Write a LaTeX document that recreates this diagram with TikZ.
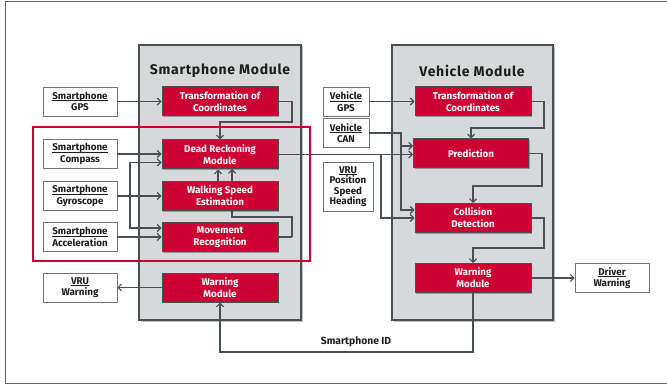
\documentclass[tikz,border=0pt]{standalone}
\usepackage{fontspec}
\setmainfont{Fira Sans}
\usetikzlibrary{arrows.meta,shadows,calc}
\definecolor{audired}{RGB}{204,0,51}
\definecolor{modfill}{RGB}{214,217,217}
\definecolor{dark}{RGB}{72,80,86}
\definecolor{txt}{RGB}{30,30,30}
\newsavebox{\ulbox}
\newcommand{\myul}[1]{\sbox{\ulbox}{#1}\rlap{\rule[-1.6pt]{\wd\ulbox}{0.7pt}}\usebox{\ulbox}}
\begin{document}
\begin{tikzpicture}[x=1pt,y=-1pt,
  module/.style={draw=dark,line width=2pt,fill=modfill,drop shadow={shadow xshift=2pt,shadow yshift=-2pt,fill=black,opacity=0.25}},
  redbox/.style={draw=dark,line width=1pt,fill=audired,text=white,font=\bfseries\fontsize{9.8}{12}\selectfont,align=center,minimum width=116pt,minimum height=29pt,inner sep=1pt,drop shadow={shadow xshift=1.2pt,shadow yshift=-1.2pt,fill=black,opacity=0.3}},
  inbox/.style={draw=black!55,line width=0.8pt,fill=white,text=txt,font=\bfseries\fontsize{9.8}{11.5}\selectfont,align=center,minimum width=74pt,minimum height=29pt,inner sep=1pt},
  conn/.style={draw=dark,line width=1.3pt},
  arr/.style={conn,-{Straight Barb[length=3.5pt,width=7pt,line width=1.1pt]}},
  title/.style={font=\bfseries\fontsize{14}{16}\selectfont\addfontfeature{LetterSpace=5},text=txt}
]
\useasboundingbox (0,0) rectangle (667,385);
% outer frame
\draw[black!60,line width=1pt] (668,2) -- (5,2) -- (5,383) -- (668,383);
% modules
\node[module,minimum width=162pt,minimum height=275pt,inner sep=0pt] (spmod) at (220,182.5) {};
\node[module,minimum width=161pt,minimum height=275pt,inner sep=0pt] (vmod) at (472.5,182.5) {};
\node[title] (sptitle) at (220,71) {Smartphone Module};
\node[title] (vtitle) at (472,71) {Vehicle Module};
% coordinates
\coordinate (j) at (130,196);
% ---- connector hidden behind the walking speed box
\draw[arr] (292,237) coordinate (mr1) -- (292,217) -- (232,217) -- (232,169);
% boxes
\node[redbox] (spT) at (220,101.5) {Transformation of\\Coordinates};
\node[redbox] (spD) at (220,154.5) {Dead Reckoning\\Module};
\node[redbox] (spW) at (220,196) {Walking Speed\\Estimation};
\node[redbox] (spM) at (220,237) {Movement\\Recognition};
\node[redbox] (spWarn) at (220,287.5) {Warning\\Module};
\node[inbox] (inGPS) at (80,101.5) {\myul{Smartphone}\\GPS};
\node[inbox] (inCompass) at (80,154) {\myul{Smartphone}\\Compass};
\node[inbox] (inGyro) at (80,196) {\myul{Smartphone}\\Gyroscope};
\node[inbox] (inAcc) at (80,237) {\myul{Smartphone}\\Acceleration};
\node[inbox] (vruW) at (80,287.5) {\myul{VRU}\\Warning};
\node[redbox] (vT) at (473,101.5) {Transformation of\\Coordinates};
\node[redbox,minimum width=115pt] (vP) at (471,153.5) {Prediction};
\node[redbox] (vC) at (473,218) {Collision\\Detection};
\node[redbox] (vW) at (473,278) {Warning\\Module};
\node[inbox,minimum width=46pt] (vGPS) at (346,101.5) {\myul{Vehicle}\\GPS};
\node[inbox,minimum width=46pt] (vCAN) at (346,133) {\myul{Vehicle}\\CAN};
\node[inbox,minimum width=50pt,minimum height=49pt,font=\bfseries\fontsize{9.8}{10.5}\selectfont] (vru) at (348,186.5) {\myul{VRU}\\Position\\Speed\\Heading};
\node[inbox] (driver) at (612,278) {\myul{Driver}\\Warning};
% connectors
\draw[conn] (spM.east) -- (mr1);
\draw[arr] (inGPS.east) -- (spT.west);
\draw[arr] (spT.east) -| (292,122) -| (spD.north);
\draw[arr] (inCompass.east) -- (inCompass.east -| spD.west);
\draw[arr] (inGyro.east) -- (spW.west);
\draw[arr] (j) |- ($(spD.west)+(0,8)$);
\draw[arr] (j) |- ($(spM.west)+(0,-9)$);
\draw[arr] (inAcc.east) -- (spM.west);
\draw[arr] ($(spW.north)+(-2,0)$) -- ($(spD.south)+(-2,0)$);
\draw[arr] (spD.east) -- (spD.east -| vP.west);
\draw[arr] (381,154.5) |- (vC.west);
\draw[arr] (vCAN.east) -| (401,146) -- (401,146 -| vP.west);
\draw[arr] (401,146) |- ($(vC.west)+(0,-8)$);
\draw[arr] (vGPS.east) -- (vT.west);
\draw[arr] (vT.east) -| (544,128) -| (vP.north);
\draw[arr] (vP.east) -| (542,186) -| (vC.north);
\draw[arr] (vC.east) -| (544,248) -| (vW.north);
\draw[arr] (vW.east) -- (driver.west);
\draw[arr] (vW.south) |- (220,352) -- (spWarn.south);
\draw[arr] (spWarn.west) -- (vruW.east);
\node[font=\bfseries\fontsize{10.3}{12}\selectfont,text=txt,anchor=south] (smid) at (356,350) {Smartphone ID};
% highlight
\draw[audired,line width=2.6pt] (33,127) rectangle (310,261);
\end{tikzpicture}
\end{document}
